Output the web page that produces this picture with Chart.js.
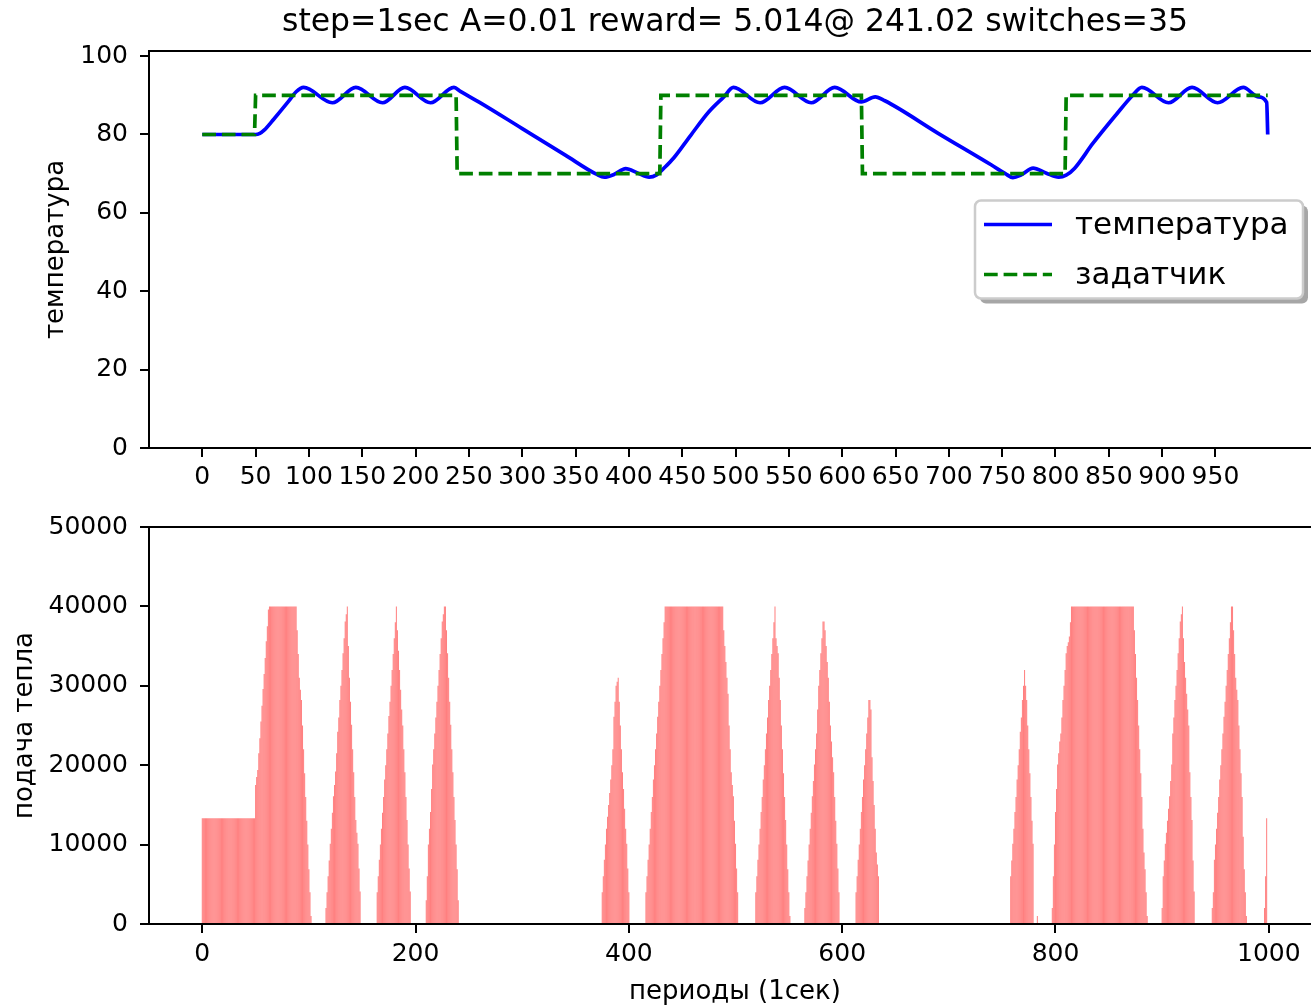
<!DOCTYPE html>
<html>
<head>
<meta charset="utf-8">
<title>step=1sec</title>
<script src="https://cdn.jsdelivr.net/npm/chart.js@4.4.1/dist/chart.umd.min.js"></script>
<style>
  html, body { margin: 0; padding: 0; background: #fff; overflow: hidden; width: 1311px; height: 1006px; }
  #tempChart { position: absolute; left: 0; top: 0; width: 1330px; height: 500px; }
  #heatChart { position: absolute; left: 0; top: 500px; width: 1330px; height: 506px; }
</style>
</head>
<body>
<canvas id="tempChart" width="1330" height="500"></canvas>
<canvas id="heatChart" width="1330" height="506"></canvas>
<script>
const titleText = 'step=1sec A=0.01 reward= 5.014@ 241.02 switches=35';

// temperature, taken at its turning points (second, degrees)
const tempTime = [0, 50, 54, 58, 67, 81, 88, 95, 122, 144, 169, 190, 214, 236, 242, 260, 300, 340, 370, 377,
  386, 397, 408, 419, 426, 434, 442, 458, 475, 489, 498, 523, 546, 571, 593, 618, 631, 640, 690, 740,
  753, 760, 768, 779, 791, 803, 810, 818, 835, 857, 872, 881, 906, 928, 952, 976, 990, 998, 999];
const tempValue = [80, 80, 80.3, 81.1, 83.9, 88.5, 90.9, 92.0, 88.1, 92.0, 88.1, 92.0, 88.1, 92.0, 91.0, 88.2, 81.5, 74.8, 69.8, 69.1,
  69.8, 71.3, 70.2, 69.1, 69.7, 71.7, 74.0, 79.8, 85.8, 89.6, 92.0, 88.1, 92.0, 88.1, 92.0, 88.3, 89.6, 88.6, 80.3, 72.2,
  70.0, 69.0, 69.7, 71.4, 70.2, 69.1, 69.6, 71.4, 77.7, 85.1, 89.9, 92.0, 88.1, 92.0, 88.1, 92.0, 89.6, 88.2, 80.0];

// setpoint: level and the second it starts at
const setpointStart = [0, 50, 239, 430, 619, 810];
const setpointLevel = [80, 90, 70, 90, 70, 90];
const lastSecond = 999;

// heat supply: each pulse starts at heatStart[i], one value per second
const heatStart = [0, 116, 164, 210, 375, 416, 519, 565, 613, 758, 783, 797, 900, 947, 996];
const heatPulses = [
  [13333, 13333, 13333, 13333, 13333, 13333, 13333, 13333, 13333, 13333,
   13333, 13333, 13333, 13333, 13333, 13333, 13333, 13333, 13333, 13333,
   13333, 13333, 13333, 13333, 13333, 13333, 13333, 13333, 13333, 13333,
   13333, 13333, 13333, 13333, 13333, 13333, 13333, 13333, 13333, 13333,
   13333, 13333, 13333, 13333, 13333, 13333, 13333, 13333, 13333, 13333,
   17500, 18500, 19400, 21500, 23400, 25500, 27500, 29600, 31500, 33500, 35600, 37500, 39600,
   40000, 40000, 40000, 40000, 40000, 40000, 40000, 40000, 40000, 40000, 40000, 40000, 40000,
   40000, 40000, 40000, 40000, 40000, 40000, 40000, 40000, 40000, 40000, 40000, 40000, 40000,
   37000, 34000, 31000, 29500, 28200, 25000, 22000, 19000, 16000, 13000, 10000, 6900, 4000, 1000],
  [2000, 4000, 6000, 8000, 10100, 12000, 14000, 16100, 17500, 19200, 21500, 24200, 26000, 28200, 30000, 32000, 34100,
   36000, 38100, 39000, 40000, 35000, 31000, 28000, 25100, 22000, 19100, 16000, 13100, 11500, 10100, 7000, 4100],
  [4000, 6000, 8100, 10000, 12000, 14000, 16000, 18200, 20000, 22000, 24000, 26200, 28000, 30000, 32000, 34000,
   36000, 38000, 40000, 37000, 34400, 32000, 29500, 27000, 25000, 22000, 19100, 16000, 13100, 10000, 7000, 4100],
  [3000, 6000, 10000, 12000, 14100, 17000, 20100, 22000, 24000, 26000, 28000, 30000, 32000, 34000, 36000, 38100,
   39000, 40000, 40000, 37000, 34100, 31000, 28000, 25100, 22000, 19100, 16000, 13100, 10000, 6900, 3000],
  [4000, 6000, 8100, 10000, 12000, 13500, 15000, 16500, 18200, 20000, 22000, 26100, 28000, 30000, 30500, 31000,
   28000, 25000, 22000, 19100, 17000, 14500, 12000, 10100, 7000, 4000],
  [4000, 6000, 8100, 10000, 12000, 14100, 16000, 18200, 20000, 22000, 24000, 26100, 28000, 30000, 32000, 34000, 36000, 38000,
   40000, 40000, 40000, 40000, 40000, 40000, 40000, 40000, 40000, 40000, 40000, 40000, 40000, 40000, 40000, 40000, 40000, 40000, 40000,
   40000, 40000, 40000, 40000, 40000, 40000, 40000, 40000, 40000, 40000, 40000, 40000, 40000, 40000, 40000, 40000, 40000, 40000, 40000,
   40000, 40000, 40000, 40000, 40000, 40000, 40000, 40000, 40000, 40000, 40000, 40000, 40000, 40000, 40000, 40000, 40000,
   37000, 35000, 33000, 31000, 29000, 25000, 22000, 19100, 17500, 16100, 13000, 10100, 7000, 4000],
  [4000, 6000, 8100, 10000, 12000, 14100, 16000, 18200, 20000, 22000, 24000, 26000, 28200, 30000, 32000, 34000, 36000,
   38000, 40000, 36000, 35000, 34100, 31000, 28200, 25000, 22000, 19000, 16000, 13100, 10000, 6900, 4000, 1000],
  [2000, 4000, 6000, 8000, 10000, 12000, 14000, 16100, 18000, 20100, 22000, 24000, 27000, 30000, 32000, 34100, 36000,
   38100, 38100, 37000, 35000, 33000, 31000, 28000, 25000, 23000, 21000, 19100, 16000, 13000, 10100, 7000, 4000],
  [4000, 6000, 8100, 10000, 12000, 14100, 16000, 18200, 20000, 22000, 24000, 26000, 28200, 28200, 27000, 21000,
   18000, 15000, 12000, 9000, 7500, 6000],
  [6000, 8000, 10100, 12000, 14100, 16000, 18200, 20000, 22000, 24200, 26000, 28200, 30000, 32000, 30000, 28200,
   25000, 22000, 19000, 16000, 13000, 10100],
  [1000],
  [2000, 6000, 10000, 14100, 17000, 20100, 21500, 23000, 24000, 26000, 28200, 30000, 32000, 34100, 35000, 35500, 36200, 38000,
   40000, 40000, 40000, 40000, 40000, 40000, 40000, 40000, 40000, 40000, 40000, 40000, 40000, 40000, 40000, 40000, 40000, 40000, 40000, 40000,
   40000, 40000, 40000, 40000, 40000, 40000, 40000, 40000, 40000, 40000, 40000, 40000, 40000, 40000, 40000, 40000, 40000, 40000, 40000, 40000,
   40000, 40000, 40000, 40000, 40000, 40000, 40000, 40000, 40000, 40000, 40000, 40000, 40000, 40000, 40000, 40000, 40000, 40000, 40000,
   37000, 34000, 31000, 28200, 25000, 22000, 19000, 16000, 12000, 9000, 6900, 4000, 1000],
  [2000, 6000, 8000, 10100, 11500, 13000, 14500, 16100, 18000, 20100, 24000, 26000, 28200, 30000, 32000, 34100, 36000,
   38100, 39000, 40000, 36000, 33000, 31000, 29000, 27000, 25000, 19100, 16000, 13100, 8000, 4100],
  [2000, 4000, 8100, 10000, 12000, 14000, 16000, 18200, 20000, 22000, 24000, 26100, 28000, 30000, 32000, 34000, 36000,
   38000, 40000, 40000, 37000, 34000, 31000, 29500, 28200, 25000, 22000, 19000, 16000, 11000, 6900, 4000, 1000],
  [2000, 6000, 13333]
];

const topXTicks = [0, 50, 100, 150, 200, 250, 300, 350, 400, 450, 500, 550, 600, 650, 700, 750, 800, 850, 900, 950];
const topYTicks = [0, 20, 40, 60, 80, 100];
const bottomXTicks = [0, 200, 400, 600, 800, 1000];
const bottomYTicks = [0, 10000, 20000, 30000, 40000, 50000];

const family = 'DejaVu Sans';
const tickFont = {family: family, size: 25};
const labelFont = {family: family, size: 26};

let tempPoints = tempTime.map(function(t, i) { return {x: t, y: tempValue[i]}; });

let setpointPoints = [];
for (let i = 0; i < setpointStart.length; i++) {
  let end = i + 1 < setpointStart.length ? setpointStart[i + 1] - 1 : lastSecond;
  setpointPoints.push({x: setpointStart[i], y: setpointLevel[i]});
  setpointPoints.push({x: end, y: setpointLevel[i]});
}

let heat = [];
for (let t = 0; t <= lastSecond; t++) heat.push(0);
heatStart.forEach(function(s, i) {
  heatPulses[i].forEach(function(v, j) { heat[s + j] = v; });
});
let heatPoints = heat.map(function(v, t) { return {x: t, y: v}; });

function fixedTicks(list) {
  return function(scale) {
    scale.ticks = list.map(function(v) { return {value: v}; });
  };
}

function tickMarks() {
  return {display: true, drawOnChartArea: false, drawTicks: true, tickLength: 9, lineWidth: 2, color: '#000', offset: false};
}

// black box round the plot area, like the axes spines
const frame = {
  id: 'frame',
  afterDraw: function(chart) {
    let a = chart.chartArea, ctx = chart.ctx;
    ctx.save();
    ctx.strokeStyle = '#000';
    ctx.lineWidth = 2;
    ctx.strokeRect(a.left, a.top, a.right - a.left, a.bottom - a.top);
    ctx.restore();
  }
};

// legend box inside the plot, right side, with a drop shadow
const legendBox = {
  id: 'legendBox',
  afterDraw: function(chart) {
    let ctx = chart.ctx, a = chart.chartArea;
    let w = 328, h = 98;
    let x = a.right - 18 - w;
    let y = (a.top + a.bottom) / 2 - h / 2;
    ctx.save();
    ctx.fillStyle = 'rgba(77,77,77,0.5)';
    ctx.beginPath();
    ctx.roundRect(x + 5, y + 5, w, h, 6);
    ctx.fill();
    ctx.fillStyle = '#ffffff';
    ctx.strokeStyle = '#cccccc';
    ctx.lineWidth = 2.5;
    ctx.beginPath();
    ctx.roundRect(x, y, w, h, 6);
    ctx.fill();
    ctx.stroke();
    ctx.font = '31px "' + family + '"';
    ctx.textBaseline = 'middle';
    chart.data.datasets.forEach(function(ds, i) {
      let ly = y + 24 + i * 50;
      ctx.strokeStyle = ds.borderColor;
      ctx.lineWidth = ds.borderWidth;
      ctx.setLineDash(ds.borderDash || []);
      ctx.beginPath();
      ctx.moveTo(x + 9, ly);
      ctx.lineTo(x + 77, ly);
      ctx.stroke();
      ctx.setLineDash([]);
      ctx.fillStyle = '#000';
      ctx.fillText(ds.label, x + 100, ly + 1);
    });
    ctx.restore();
  }
};

let tempChart = new Chart(document.getElementById('tempChart').getContext('2d'), {
  type: 'line',
  data: {
    datasets: [{
      label: 'температура',
      data: tempPoints,
      borderColor: '#0000ff',
      borderWidth: 3.7,
      borderJoinStyle: 'round',
      cubicInterpolationMode: 'monotone',
      pointRadius: 0,
      fill: false,
      order: 2
    }, {
      label: 'задатчик',
      data: setpointPoints,
      borderColor: '#008000',
      borderWidth: 3.7,
      borderDash: [13.7, 5.9],
      pointRadius: 0,
      fill: false,
      order: 1
    }]
  },
  options: {
    responsive: false,
    animation: false,
    events: [],
    layout: {padding: {left: 0, right: 9, top: 0, bottom: 0}},
    plugins: {
      legend: {display: false},
      tooltip: {enabled: false},
      title: {
        display: true,
        text: titleText,
        fullSize: false,
        color: '#000',
        font: {family: family, size: 31.5, weight: 'normal'},
        padding: {top: 4.2, bottom: 9}
      }
    },
    scales: {
      x: {
        type: 'linear',
        min: -49.95,
        max: 1048.95,
        afterBuildTicks: fixedTicks(topXTicks),
        afterFit: function(s) { s.height = 52; },
        grid: tickMarks(),
        border: {display: false},
        ticks: {color: '#000', font: tickFont, padding: 5.5, autoSkip: false, maxRotation: 0, minRotation: 0,
          callback: function(v) { return String(v); }}
      },
      y: {
        min: 0,
        max: 101.3,
        afterBuildTicks: fixedTicks(topYTicks),
        afterFit: function(s) { s.width = 149; },
        grid: tickMarks(),
        border: {display: false},
        title: {display: true, text: 'температура', color: '#000', font: labelFont, padding: {top: 40.4, bottom: 0}},
        ticks: {color: '#000', font: tickFont, padding: 12, callback: function(v) { return String(v); }}
      }
    }
  },
  plugins: [frame, legendBox]
});

let heatChart = new Chart(document.getElementById('heatChart').getContext('2d'), {
  type: 'bar',
  data: {
    datasets: [{
      label: 'подача тепла',
      data: heatPoints,
      backgroundColor: 'rgba(255,0,0,0.5)',
      borderWidth: 0,
      inflateAmount: 0,
      barPercentage: 0.95,
      categoryPercentage: 1
    }]
  },
  options: {
    responsive: false,
    animation: false,
    events: [],
    layout: {padding: {left: 0, right: 9, top: 27, bottom: 0}},
    plugins: {
      legend: {display: false},
      tooltip: {enabled: false}
    },
    scales: {
      x: {
        type: 'linear',
        min: -49.95,
        max: 1048.95,
        offset: false,
        afterBuildTicks: fixedTicks(bottomXTicks),
        afterFit: function(s) { s.height = 82; },
        grid: tickMarks(),
        border: {display: false},
        title: {display: true, text: 'периоды (1сек)', color: '#000', font: labelFont, padding: {top: 0, bottom: -2}},
        ticks: {color: '#000', font: tickFont, padding: 6, autoSkip: false, maxRotation: 0, minRotation: 0,
          callback: function(v) { return String(v); }}
      },
      y: {
        min: 0,
        max: 50000,
        afterBuildTicks: fixedTicks(bottomYTicks),
        afterFit: function(s) { s.width = 149; },
        grid: tickMarks(),
        border: {display: false},
        title: {display: true, text: 'подача тепла', color: '#000', font: labelFont, padding: {top: 9.2, bottom: 0}},
        ticks: {color: '#000', font: tickFont, padding: 12, callback: function(v) { return String(v); }}
      }
    }
  },
  plugins: [frame]
});
</script>
</body>
</html>
